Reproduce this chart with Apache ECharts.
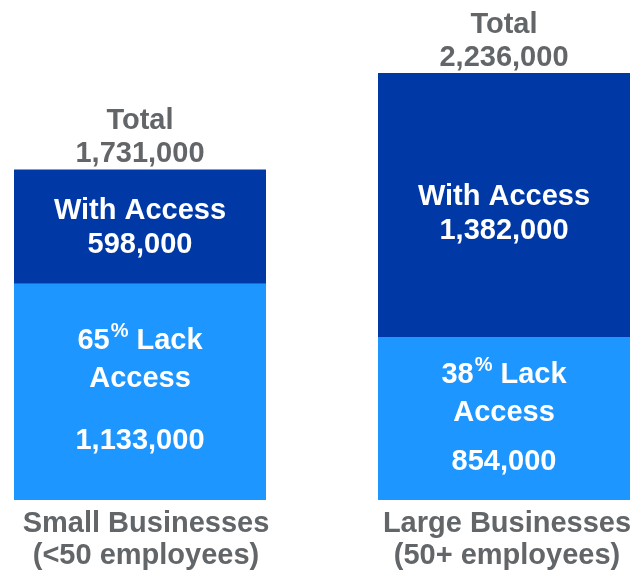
<!DOCTYPE html>
<html>
<head>
<meta charset="utf-8">
<script src="https://cdn.jsdelivr.net/npm/echarts@6/dist/echarts.min.js"></script>
<style>
  html, body { margin: 0; padding: 0; background: #fff; }
  #chart { width: 644px; height: 577px; }
</style>
</head>
<body>
<div id="chart"></div>
<script>
// Businesses by access, stacked per size class
const categories = ['Small Businesses\n(<50 employees)', 'Large Businesses\n(50+ employees)'];
const lackAccess = [1133000, 854000];
const withAccess = [598000, 1382000];

const totals = categories.map((_, i) => lackAccess[i] + withAccess[i]);
const lackPct = categories.map((_, i) => Math.round(lackAccess[i] / totals[i] * 100));
const fmt = v => v.toLocaleString('en-US');

const FONT = '"Liberation Sans", Arial, Helvetica, sans-serif';
const DARK = '#0039A6';
const LIGHT = '#1E96FF';
const GREY = '#636669';
const FS = 29;

// per-bar layout of the labels (line gap before the count, vertical nudges)
const lackGap = [86, 61];
const lackNudge = [11, 6];
const withNudge = [1, 9];
const catPad = [[0, 0, 0, 12], [0, 0, 0, 6]];

const chart = echarts.init(document.getElementById('chart'));

chart.setOption({
  animation: false,
  grid: { left: -42, right: -42, top: 73, bottom: 77, outerBoundsMode: 'none', containLabel: false },
  xAxis: {
    type: 'category',
    data: categories.map((c, i) => ({ value: c, textStyle: { padding: catPad[i] } })),
    axisLine: { show: false },
    axisTick: { show: false },
    axisLabel: {
      margin: 8,
      color: GREY,
      fontFamily: FONT,
      fontWeight: 'bold',
      fontSize: FS,
      lineHeight: 32
    }
  },
  yAxis: {
    type: 'value',
    min: 0,
    max: Math.max(...totals),
    show: false,
    splitLine: { show: false }
  },
  series: [
    {
      name: 'Lack Access',
      type: 'bar',
      stack: 'all',
      barWidth: 252,
      itemStyle: { color: LIGHT },
      data: lackAccess.map((v, i) => ({
        value: v,
        label: {
          show: true,
          position: 'inside',
          offset: [0, lackNudge[i]],
          formatter: '{b|' + lackPct[i] + '}{sup|%}{b| Lack}\n{b|Access}\n{n|' + fmt(v) + '}',
          rich: {
            b: { color: '#fff', fontFamily: FONT, fontWeight: 'bold', fontSize: FS, lineHeight: 38 },
            sup: { color: '#fff', fontFamily: FONT, fontWeight: 'bold', fontSize: 20, lineHeight: 38, verticalAlign: 'top', padding: [0, 0, 8, 1] },
            n: { color: '#fff', fontFamily: FONT, fontWeight: 'bold', fontSize: FS, lineHeight: lackGap[i] }
          }
        }
      }))
    },
    {
      name: 'With Access',
      type: 'bar',
      stack: 'all',
      barWidth: 252,
      itemStyle: { color: DARK },
      data: withAccess.map((v, i) => ({
        value: v,
        label: {
          show: true,
          position: 'inside',
          offset: [0, withNudge[i]],
          formatter: 'With Access\n' + fmt(v),
          color: '#fff',
          fontFamily: FONT,
          fontWeight: 'bold',
          fontSize: FS,
          lineHeight: 34
        }
      }))
    },
    {
      // totals sitting on top of each stack
      name: 'Total',
      type: 'bar',
      stack: 'all',
      barWidth: 252,
      itemStyle: { color: 'transparent' },
      data: totals.map(() => 0),
      label: {
        show: true,
        position: 'top',
        distance: -1,
        formatter: p => 'Total\n' + fmt(totals[p.dataIndex]),
        color: GREY,
        fontFamily: FONT,
        fontWeight: 'bold',
        fontSize: FS,
        lineHeight: 33
      }
    }
  ]
});
</script>
</body>
</html>
